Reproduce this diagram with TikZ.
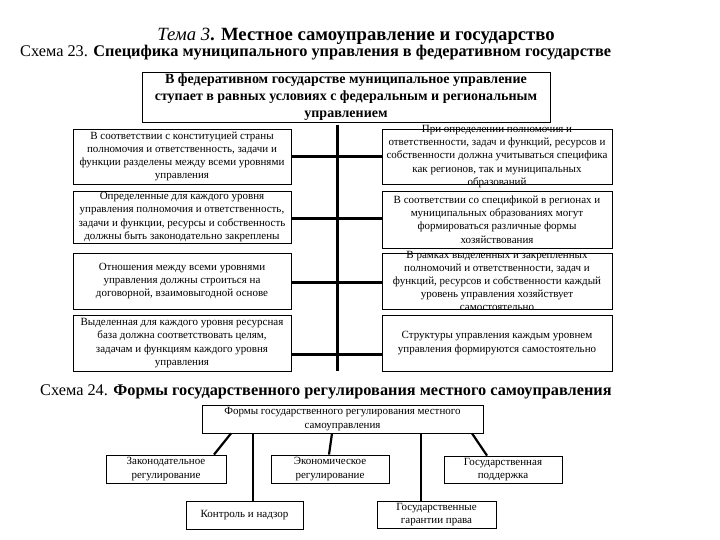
\documentclass[tikz,border=0pt]{standalone}
\usepackage{fontspec}
\setmainfont{Liberation Serif}
\usetikzlibrary{positioning}
\tikzset{
  % --- Scheme 23 boxes ---
  cellbox/.style={draw, line width=0.8pt, inner sep=0pt,
                  font=\fontsize{11}{13.2}\selectfont},
  topbox/.style={cellbox, font=\bfseries\fontsize{14}{17}\selectfont},
  % --- Scheme 24 boxes ---
  formbox/.style={draw, line width=0.8pt, inner sep=0pt,
                  font=\fontsize{11}{13.5}\selectfont},
  heading/.style={inner sep=0pt, font=\fontsize{16.3}{19}\selectfont},
  link/.style={line width=3pt},
  formlink/.style={line width=2.2pt},
}
\newcommand{\cell}[3]{\parbox[c][#2][c]{#1}{\centering #3}}

\begin{document}
\begin{tikzpicture}[x=1pt,y=-1pt]
  \useasboundingbox (0,0) rectangle (720,540);
  \fill[white] (0,0) rectangle (720,540);
  % headings
  \node[heading, font=\fontsize{18.7}{22}\selectfont] (title) at (356,36)
    {\textit{Тема 3}\textbf{. Местное самоуправление и государство}};
  \node[heading, anchor=west] (head23) at (20,53)
    {Схема 23. \textbf{Специфика муниципального управления в федеративном государстве}};
  % scheme 23
  \node[topbox] (fed) at (346,97) {\cell{408pt}{50pt}{В федеративном государстве муниципальное управление\\
    ступает в равных условиях с федеральным и региональным\\ управлением}};
  \node[cellbox] (L1) at (182,156.5) {\cell{218pt}{55pt}{В соответствии с конституцией страны\\
    полномочия и ответственность, задачи и\\ функции разделены между всеми уровнями\\ управления}};
  \node[cellbox] (L2) at (182,217) {\cell{218pt}{52pt}{Определенные для каждого уровня\\
    управления полномочия и ответственность,\\ задачи и функции, ресурсы и собственность\\ должны быть законодательно закреплены}};
  \node[cellbox] (L3) at (182,281) {\cell{218pt}{56pt}{Отношения между всеми уровнями\\
    управления должны строиться на\\ договорной, взаимовыгодной основе}};
  \node[cellbox] (L4) at (182,343) {\cell{218pt}{56pt}{Выделенная для каждого уровня ресурсная\\
    база должна соответствовать целям,\\ задачам и функциям каждого уровня\\ управления}};
  \node[cellbox] (R1) at (497,156.5) {\cell{230pt}{55pt}{При определении полномочия и\\
    ответственности, задач и функций, ресурсов и\\ собственности должна учитываться специфика\\
    как регионов, так и муниципальных\\ образований}};
  \node[cellbox] (R2) at (497,219.5) {\cell{230pt}{57pt}{В соответствии со спецификой в регионах и\\
    муниципальных образованиях могут\\ формироваться различные формы\\ хозяйствования}};
  \node[cellbox] (R3) at (497,281) {\cell{230pt}{56pt}{В рамках выделенных и закрепленных\\
    полномочий и ответственности, задач и\\ функций, ресурсов и собственности каждый\\
    уровень управления хозяйствует\\ самостоятельно}};
  \node[cellbox] (R4) at (497,343) {\cell{230pt}{56pt}{Структуры управления каждым уровнем\\
    управления формируются самостоятельно}};
  \coordinate (spinetop) at (337,125);
  \coordinate (spinebot) at (337,371);
  \draw[link] (spinetop) -- (spinebot);
  \draw[link] ([yshift=-0.5pt]L1.east) -- ([yshift=-0.5pt]R1.west);
  \draw[link] ([yshift=-2pt]L2.east) -- ([yshift=-2pt]L2.east -| R2.west);
  \draw[link] ([yshift=-1pt]L3.east) -- ([yshift=-1pt]R3.west);
  \draw[link] ([yshift=-11pt]L4.east) -- ([yshift=-11pt]R4.west);
  % scheme 24
  \node[heading, anchor=west] (head24) at (40,392)
    {Схема 24. \textbf{Формы государственного регулирования местного самоуправления}};
  \node[formbox] (forms) at (342.5,419) {\cell{281pt}{28pt}{Формы государственного регулирования местного\\ самоуправления}};
  \node[formbox] (law) at (166,469) {\cell{120pt}{28pt}{Законодательное\\ регулирование}};
  \node[formbox] (econ) at (330,469) {\cell{118pt}{28pt}{Экономическое\\ регулирование}};
  \node[formbox] (supp) at (503,469.5) {\cell{118pt}{27pt}{Государственная\\ поддержка}};
  \node[formbox] (ctrl) at (244.5,515) {\cell{117pt}{28pt}{Контроль и надзор}};
  \node[formbox] (guar) at (436.5,514.5) {\cell{119pt}{27pt}{Государственные\\ гарантии права}};
  \draw[formlink] ([xshift=-111.5pt]forms.south) -- ([xshift=48pt]law.north);
  \draw[formlink] ([xshift=8.5pt]ctrl.north) -- ([xshift=8.5pt]ctrl.north |- forms.south);
  \draw[formlink] ([xshift=-10.5pt]forms.south) -- ([xshift=-1pt]econ.north);
  \draw[formlink] ([xshift=-15.5pt]guar.north) -- ([xshift=-15.5pt]guar.north |- forms.south);
  \draw[formlink] ([xshift=129.5pt]forms.south) -- ([xshift=-16pt]supp.north);
\end{tikzpicture}
\end{document}
